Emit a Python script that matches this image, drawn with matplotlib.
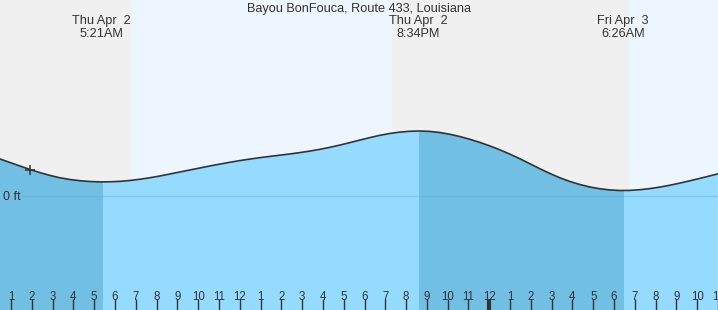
import numpy as np
import matplotlib
matplotlib.use("Agg")
import matplotlib.pyplot as plt
from matplotlib.patches import PathPatch

plt.rcParams["font.family"] = ["Liberation Sans", "DejaVu Sans"]

# hours since Thu Apr 2 00:00, tide height in ft
heure = [0.47, 0.95, 1.43, 1.91, 2.39, 2.87, 3.35, 3.84, 4.32, 4.80,
         5.28, 5.76, 6.24, 6.72, 7.20, 7.68, 8.16, 8.64, 9.12, 9.60,
         10.08, 10.56, 11.04, 11.52, 12.00, 12.49, 12.97, 13.45, 13.93, 14.41,
         14.89, 15.37, 15.85, 16.33, 16.81, 17.29, 17.77, 18.25, 18.73, 19.21,
         19.69, 20.17, 20.65, 21.14, 21.62, 22.10, 22.58, 23.06, 23.54, 24.02,
         24.50, 24.98, 25.46, 25.94, 26.42, 26.90, 27.38, 27.86, 28.34, 28.82,
         29.30, 29.78, 30.27, 30.75, 31.23, 31.71, 32.19, 32.67, 33.15, 33.63,
         34.11, 34.59, 34.97]
hauteur = [0.730, 0.660, 0.590, 0.520, 0.458, 0.402, 0.355, 0.320, 0.295, 0.280,
           0.272, 0.274, 0.283, 0.300, 0.325, 0.355, 0.390, 0.430, 0.470, 0.510,
           0.550, 0.590, 0.628, 0.664, 0.698, 0.729, 0.757, 0.782, 0.806, 0.831,
           0.858, 0.888, 0.923, 0.963, 1.008, 1.057, 1.107, 1.157, 1.203, 1.240,
           1.267, 1.284, 1.290, 1.282, 1.260, 1.225, 1.180, 1.125, 1.063, 0.993,
           0.915, 0.830, 0.737, 0.638, 0.538, 0.443, 0.357, 0.283, 0.222, 0.172,
           0.136, 0.112, 0.100, 0.102, 0.115, 0.137, 0.167, 0.204, 0.246, 0.292,
           0.340, 0.390, 0.430]

# tide extremes (low, high, low) and their labels
extremes = [5.35, 20.57, 30.43]
etiquettes = ["Thu Apr  2\n5:21AM", "Thu Apr  2\n8:34PM", "Fri Apr  3\n6:26AM"]

# sunrise / sunset (hours)
lever1, coucher, lever2 = 6.77, 19.30, 30.74
maintenant = (1.91, 0.52)

heures_ticks = list(range(1, 36))
labels_ticks = [str((h - 1) % 12 + 1) for h in heures_ticks]

x0, x1 = 0.47, 34.97
y0, y1 = -2.29, 3.91

fig = plt.figure(figsize=(7.18, 3.10), dpi=100)
ax = fig.add_axes([0, 0, 1, 1])
ax.set_xlim(x0, x1)
ax.set_ylim(y0, y1)
ax.set_facecolor("#edf6fe")
for s in ax.spines.values():
    s.set_visible(False)

# nuit en gris
ax.axvspan(x0 - 1, lever1, color="#f0f0f0", lw=0, zorder=0)
ax.axvspan(coucher, lever2, color="#f0f0f0", lw=0, zorder=0)

# eau : clair quand ça monte, foncé quand ça descend
t = np.array(heure)
z = np.array(hauteur)
eau = ax.fill_between(t, z, y0, color="#94dbff", lw=0, zorder=1)
chemin = eau.get_paths()[0]
for a, b in [(x0 - 1, extremes[0]), (extremes[1], extremes[2])]:
    zone = ax.axvspan(a + 0.07, b + 0.07, color="#72bfe4", lw=0, zorder=2)
    zone.set_clip_path(PathPatch(chemin, transform=ax.transData))

# ligne 0 ft
ax.plot([1.53, x1], [0, 0], color="#5aa8d4", lw=1, alpha=0.35, zorder=3)
ax.text(x0 + 3 / 20.81, -0.03, "0 ft", fontsize=9, color="#333333",
        va="center", ha="left", zorder=4)

ax.plot(t, z, color="#333333", lw=1.2, zorder=5)
ax.plot(*maintenant, marker="+", ms=6.5, mew=1.1, color="#333333", zorder=6)

# textes du haut
ax.text(0.5, 0.971, "Bayou BonFouca, Route 433, Louisiana", transform=ax.transAxes,
        ha="center", va="center", fontsize=9.2, color="#333333")
for h, lab in zip(extremes, etiquettes):
    ax.text(h, y1 - 27.5 / 50, lab, ha="center", va="center", fontsize=9.2,
            color="#333333", linespacing=1.02)

# heures en bas
ax.set_xticks(heures_ticks)
ax.set_xticklabels(labels_ticks)
ax.tick_params(axis="x", direction="in", length=8, width=1, color="#333333",
               pad=-14, labelsize=8.3, labelcolor="#333333")
ax.tick_params(axis="y", left=False, labelleft=False)
ax.xaxis.set_zorder(10)
ax.xaxis.get_major_ticks()[23].tick1line.set_markeredgewidth(3)

fig.savefig("out.png", dpi=100)
